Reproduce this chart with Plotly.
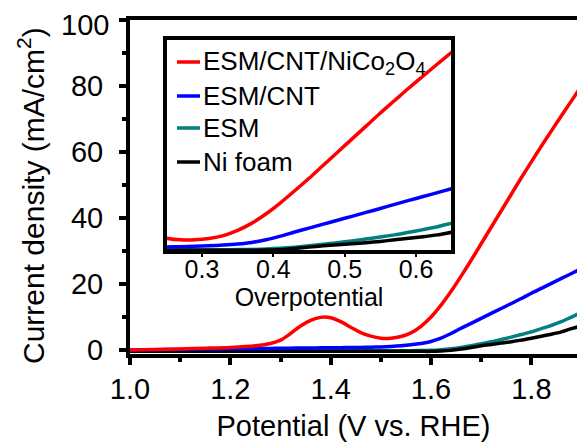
import plotly.graph_objects as go

# Potential grid (V vs. RHE)
potential = [1.00, 1.05, 1.10, 1.15, 1.20, 1.25, 1.28, 1.30, 1.32, 1.34, 1.36, 1.38,
             1.40, 1.42, 1.44, 1.46, 1.48, 1.50, 1.52, 1.54, 1.56, 1.58, 1.60, 1.62,
             1.64, 1.66, 1.68, 1.70, 1.72, 1.74, 1.76, 1.78, 1.80, 1.82, 1.84, 1.86,
             1.88, 1.90]

# Current density (mA/cm2)
esm_cnt_nico = [0.0, 0.15, 0.35, 0.55, 0.8, 1.3, 2.0, 3.0, 5.0, 7.3, 9.0, 9.9,
                9.8, 8.6, 6.9, 5.3, 4.2, 3.6, 3.6, 4.1, 5.2, 7.2, 10.0, 13.6,
                17.8, 22.4, 27.2, 32.2, 37.2, 42.2, 47.2, 52.2, 57.0, 61.8, 66.4, 71.0,
                75.5, 80.0]
esm_cnt = [0.0, 0.1, 0.2, 0.3, 0.4, 0.45, 0.5, 0.55, 0.58, 0.6, 0.63, 0.66,
           0.7, 0.73, 0.76, 0.8, 0.87, 0.95, 1.1, 1.3, 1.6, 2.0, 2.6, 3.6,
           5.0, 6.6, 8.1, 9.6, 11.1, 12.6, 14.1, 15.6, 17.2, 18.7, 20.2, 21.7,
           23.2, 24.7]
esm = [-0.2, -0.2, -0.2, -0.2, -0.2, -0.2, -0.2, -0.2, -0.2, -0.2, -0.2, -0.2,
       -0.2, -0.2, -0.2, -0.2, -0.2, -0.2, -0.2, -0.2, -0.2, -0.15, -0.1, 0.1,
       0.4, 0.8, 1.3, 1.9, 2.5, 3.2, 3.9, 4.7, 5.5, 6.5, 7.5, 8.6,
       10.0, 11.4]
ni_foam = [-0.4, -0.4, -0.4, -0.4, -0.4, -0.4, -0.4, -0.4, -0.4, -0.4, -0.4, -0.4,
           -0.4, -0.4, -0.4, -0.4, -0.4, -0.4, -0.4, -0.4, -0.4, -0.4, -0.4, -0.3,
           -0.1, 0.3, 0.8, 1.3, 1.7, 2.1, 2.5, 3.0, 3.6, 4.2, 4.8, 5.5,
           6.5, 7.3]

E_EQ = 1.23  # equilibrium potential used for the overpotential inset
overpotential = [round(e - E_EQ, 3) for e in potential]

names = ["ESM/CNT/NiCo<sub>2</sub>O<sub>4</sub>", "ESM/CNT", "ESM", "Ni foam"]
colors = ["#FF0000", "#0000FF", "#008080", "#000000"]
series = [esm_cnt_nico, esm_cnt, esm, ni_foam]
draw_order = [2, 3, 1, 0]

y_ticks = [0, 20, 40, 60, 80, 100]
y_ticktext = ["0", "20", "40", "60", "80", ""]
x_ticks = [1.0, 1.2, 1.4, 1.6, 1.8]
inset_ticks = [0.3, 0.4, 0.5, 0.6]

FONT = "Arial, Liberation Sans, sans-serif"
LW = 3.5

# plot-area geometry (pixels) used to place legend items in paper coordinates
L, R, T, B = 130, 577, 20, 354
def px_x(p):
    return (p - L) / (R - L)
def px_y(p):
    return (B - p) / (B - T)

fig = go.Figure()
for i in draw_order:
    fig.add_trace(go.Scatter(x=potential, y=series[i], mode="lines",
                             line=dict(color=colors[i], width=LW, shape="spline", smoothing=0.8),
                             showlegend=False, xaxis="x", yaxis="y"))
for i in draw_order:
    fig.add_trace(go.Scatter(x=overpotential, y=series[i], mode="lines", name=names[i],
                             line=dict(color=colors[i], width=LW, shape="spline", smoothing=0.8),
                             showlegend=False, xaxis="x2", yaxis="y2"))

# manual legend inside the inset
legend_rows = [62, 96, 128, 162]
shapes = []
annotations = []
for i, row in enumerate(legend_rows):
    shapes.append(dict(type="line", xref="paper", yref="paper",
                       x0=px_x(177), x1=px_x(200), y0=px_y(row), y1=px_y(row),
                       line=dict(color=colors[i], width=LW)))
    annotations.append(dict(xref="paper", yref="paper", x=px_x(201), y=px_y(row),
                            xanchor="left", yanchor="middle", showarrow=False,
                            text=names[i], font=dict(size=26, family=FONT, color="black")))
annotations.append(dict(xref="paper", yref="paper", x=px_x(85), y=px_y(25),
                        xanchor="center", yanchor="middle", showarrow=False,
                        text="100", font=dict(size=29, family=FONT, color="black")))
annotations.append(dict(xref="paper", yref="paper", x=px_x(31), y=px_y(196),
                        xanchor="center", yanchor="middle", showarrow=False, textangle=-90,
                        text="Current density (mA/cm<sup>2</sup>)",
                        font=dict(size=30, family=FONT, color="black")))

fig.update_layout(
    width=577, height=442,
    margin=dict(l=L, r=577 - R, t=T, b=442 - B),
    paper_bgcolor="white", plot_bgcolor="white",
    font=dict(family=FONT, color="black", size=29),
    showlegend=False,
    shapes=shapes, annotations=annotations,
    xaxis=dict(range=[1.0, 1.891], domain=[0, 1], showline=True, linewidth=4, linecolor="black",
               mirror=True, ticks="outside", ticklen=7, tickwidth=3.5, tickcolor="black",
               tickvals=x_ticks, ticktext=["%.1f" % v for v in x_ticks],
               minor=dict(tickvals=[1.1, 1.3, 1.5, 1.7], ticklen=4, tickwidth=3.5, tickcolor="black", ticks="outside"),
               showgrid=False, zeroline=False, tickfont=dict(size=29), ticklabelstandoff=-1,
               automargin=False,
               title=dict(text="Potential (V vs. RHE)", font=dict(size=29), standoff=18)),
    yaxis=dict(range=[-1.2, 100], domain=[0, 1], showline=True, linewidth=4, linecolor="black",
               mirror=False, ticks="outside", ticklen=7, tickwidth=3.5, tickcolor="black",
               tickvals=y_ticks, ticktext=y_ticktext,
               minor=dict(tickvals=[10, 30, 50, 70, 90], ticklen=4, tickwidth=3.5, tickcolor="black", ticks="outside"),
               showgrid=False, zeroline=False, tickfont=dict(size=29), ticklabelstandoff=10,
               automargin=False),
    xaxis2=dict(domain=[px_x(167), px_x(451)], anchor="y2", range=[0.251, 0.649],
                showline=True, linewidth=4, linecolor="black", mirror=True,
                ticks="outside", ticklen=3, tickwidth=2, tickcolor="black",
                tickvals=inset_ticks, ticktext=["%.1f" % v for v in inset_ticks],
                showgrid=False, zeroline=False, tickfont=dict(size=25), ticklabelstandoff=-9,
                automargin=False,
                title=dict(text="Overpotential", font=dict(size=25), standoff=5)),
    yaxis2=dict(domain=[px_y(250), px_y(40)], anchor="x2", range=[-0.3, 80.2],
                showline=True, linewidth=4, linecolor="black", mirror=True,
                ticks="", showticklabels=False, showgrid=False, zeroline=False,
                automargin=False),
)

fig.write_html("out.html", config={"displayModeBar": False},
               post_script="document.body.style.margin='0px';")
